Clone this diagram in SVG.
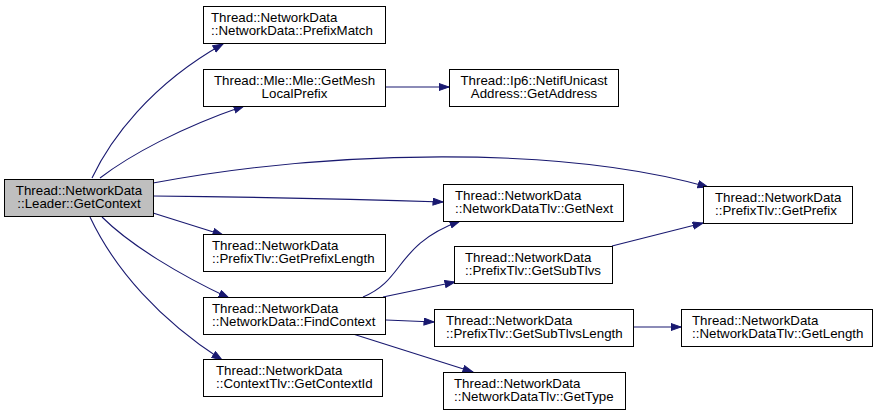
<svg xmlns="http://www.w3.org/2000/svg" width="880" height="415" viewBox="0 0 880 415">
<style>
.n rect{fill:#ffffff;stroke:#000000;stroke-width:1}
.n.root rect{fill:#bfbfbf}
.n text{font-family:"Liberation Sans",Arial,sans-serif;font-size:13.3px;fill:#000000}
.c{text-anchor:middle}
.e path{fill:none;stroke:#191970;stroke-width:1.1;marker-end:url(#ah)}
</style>
<defs>
<marker id="ah" markerUnits="userSpaceOnUse" markerWidth="12" markerHeight="10" refX="10.5" refY="4" orient="auto">
<path d="M0.5,0.5 L10.5,4 L0.5,7.5 z" fill="#191970" stroke="#191970" stroke-width="1"/>
</marker>
</defs>
<rect width="880" height="415" fill="#ffffff"/>
<g id="edges" class="e">
<path d="M92,178 C110,140 150,85 223,44"/>
<path d="M100,178 C130,155 180,128 244,106"/>
<path d="M385,87 L449,87"/>
<path d="M153,183 C330,150 560,145 708,187"/>
<path d="M153,196 C250,197 350,199 443,202"/>
<path d="M153,213 L223,235"/>
<path d="M102,217 C130,245 180,275 229,298"/>
<path d="M90,217 C115,270 160,320 222,360"/>
<path d="M363,297 C405,280 395,245 460,221"/>
<path d="M383,297 L455,282"/>
<path d="M386,320 L434,322"/>
<path d="M353,334 L473,372"/>
<path d="M612,246 L703,223"/>
<path d="M633,327 L681,327"/>
</g>
<g id="root" class="n root">
<rect x="4.5" y="179.5" width="149" height="37"/>
<text class="c" x="79" y="195">Thread::NetworkData</text>
<text class="c" x="79" y="208">::Leader::GetContext</text>
</g>
<g id="prefixmatch" class="n">
<rect x="203.5" y="6.5" width="182" height="37"/>
<text x="211" y="22">Thread::NetworkData</text>
<text x="211" y="35">::NetworkData::PrefixMatch</text>
</g>
<g id="getmeshlocalprefix" class="n">
<rect x="203.5" y="69.5" width="182" height="37"/>
<text class="c" x="294.5" y="85">Thread::Mle::Mle::GetMesh</text>
<text class="c" x="294.5" y="98">LocalPrefix</text>
</g>
<g id="getaddress" class="n">
<rect x="449.5" y="69.5" width="169" height="37"/>
<text class="c" x="534" y="85">Thread::Ip6::NetifUnicast</text>
<text class="c" x="534" y="98">Address::GetAddress</text>
</g>
<g id="getprefix" class="n">
<rect x="703.5" y="186.5" width="149" height="37"/>
<text x="715" y="202">Thread::NetworkData</text>
<text x="715" y="215">::PrefixTlv::GetPrefix</text>
</g>
<g id="getnext" class="n">
<rect x="443.5" y="184.5" width="180" height="37"/>
<text x="455" y="200">Thread::NetworkData</text>
<text x="455" y="213">::NetworkDataTlv::GetNext</text>
</g>
<g id="getprefixlength" class="n">
<rect x="203.5" y="234.5" width="182" height="37"/>
<text x="212" y="250">Thread::NetworkData</text>
<text x="212" y="263">::PrefixTlv::GetPrefixLength</text>
</g>
<g id="getsubtlvs" class="n">
<rect x="454.5" y="246.5" width="158" height="37"/>
<text x="465" y="262">Thread::NetworkData</text>
<text x="465" y="275">::PrefixTlv::GetSubTlvs</text>
</g>
<g id="findcontext" class="n">
<rect x="203.5" y="297.5" width="182" height="37"/>
<text x="212" y="313">Thread::NetworkData</text>
<text x="212" y="326">::NetworkData::FindContext</text>
</g>
<g id="getsubtlvslength" class="n">
<rect x="434.5" y="309.5" width="199" height="37"/>
<text x="446" y="325">Thread::NetworkData</text>
<text x="446" y="338">::PrefixTlv::GetSubTlvsLength</text>
</g>
<g id="getlength" class="n">
<rect x="681.5" y="309.5" width="191" height="37"/>
<text x="692" y="325">Thread::NetworkData</text>
<text x="692" y="338">::NetworkDataTlv::GetLength</text>
</g>
<g id="getcontextid" class="n">
<rect x="203.5" y="359.5" width="179" height="37"/>
<text x="216" y="375">Thread::NetworkData</text>
<text x="216" y="388">::ContextTlv::GetContextId</text>
</g>
<g id="gettype" class="n">
<rect x="443.5" y="372.5" width="182" height="37"/>
<text x="454" y="388">Thread::NetworkData</text>
<text x="454" y="401">::NetworkDataTlv::GetType</text>
</g>
</svg>
